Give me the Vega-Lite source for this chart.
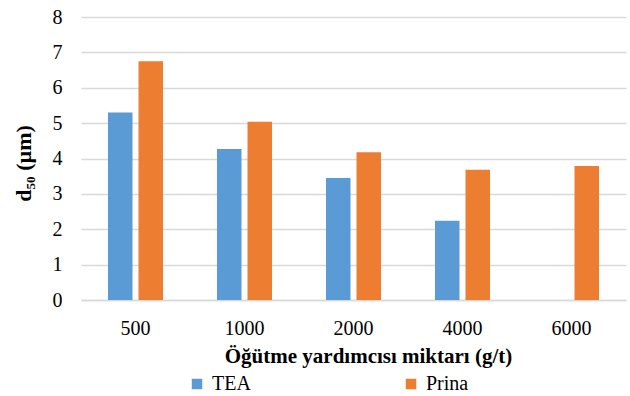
{
  "$schema": "https://vega.github.io/schema/vega-lite/v6.json",
  "width": 545,
  "height": 283,
  "autosize": "none",
  "padding": {"left": 81, "top": 17, "right": 4, "bottom": 96},
  "background": "white",
  "data": {
    "values": [
      {"miktar": "500", "katki": "TEA", "d50": 5.30},
      {"miktar": "500", "katki": "Prina", "d50": 6.75},
      {"miktar": "1000", "katki": "TEA", "d50": 4.27},
      {"miktar": "1000", "katki": "Prina", "d50": 5.04},
      {"miktar": "2000", "katki": "TEA", "d50": 3.45},
      {"miktar": "2000", "katki": "Prina", "d50": 4.18},
      {"miktar": "4000", "katki": "TEA", "d50": 2.24},
      {"miktar": "4000", "katki": "Prina", "d50": 3.68},
      {"miktar": "6000", "katki": "Prina", "d50": 3.79}
    ]
  },
  "mark": {"type": "bar"},
  "encoding": {
    "x": {
      "field": "miktar",
      "type": "ordinal",
      "sort": ["500", "1000", "2000", "4000", "6000"],
      "scale": {"paddingInner": 0.495, "paddingOuter": 0.2475},
      "axis": {
        "title": "Öğütme yardımcısı miktarı (g/t)",
        "titleFont": "Liberation Serif",
        "titleFontSize": 21,
        "titleFontWeight": "bold",
        "titleColor": "#000000",
        "titleAnchor": "middle",
        "titleX": 287,
        "titleY": 45,
        "labelFont": "Liberation Serif",
        "labelFontSize": 20,
        "labelColor": "#000000",
        "labelAngle": 0,
        "labelPadding": 18,
        "ticks": false,
        "domain": true,
        "domainColor": "#D9D9D9",
        "domainWidth": 1.5
      }
    },
    "xOffset": {
      "field": "katki",
      "type": "nominal",
      "sort": ["TEA", "Prina"],
      "scale": {"domain": ["TEA", "Prina"], "paddingInner": 0.197, "paddingOuter": 0}
    },
    "y": {
      "field": "d50",
      "type": "quantitative",
      "scale": {"domain": [0, 8], "nice": false},
      "axis": {
        "title": "d₅₀ (µm)",
        "titleFont": "Liberation Serif",
        "titleFontSize": 22,
        "titleFontWeight": "bold",
        "titleColor": "#000000",
        "titleAnchor": "middle",
        "titleX": -46,
        "titleY": 146,
        "labelFont": "Liberation Serif",
        "labelFontSize": 20,
        "labelColor": "#000000",
        "labelPadding": 19,
        "values": [0, 1, 2, 3, 4, 5, 6, 7, 8],
        "ticks": false,
        "domain": false,
        "grid": true,
        "gridColor": "#D9D9D9",
        "gridWidth": 1.5
      }
    },
    "color": {
      "field": "katki",
      "type": "nominal",
      "sort": ["TEA", "Prina"],
      "scale": {"domain": ["TEA", "Prina"], "range": ["#5B9BD5", "#ED7D31"]},
      "legend": {
        "title": null,
        "orient": "none",
        "direction": "horizontal",
        "legendX": 106,
        "legendY": 357,
        "symbolType": "square",
        "symbolSize": 110,
        "symbolStrokeWidth": 0,
        "labelFont": "Liberation Serif",
        "labelFontSize": 20,
        "labelColor": "#000000",
        "labelOffset": 5,
        "columnPadding": 150
      }
    }
  },
  "config": {
    "font": "Liberation Serif",
    "view": {"stroke": null}
  }
}
